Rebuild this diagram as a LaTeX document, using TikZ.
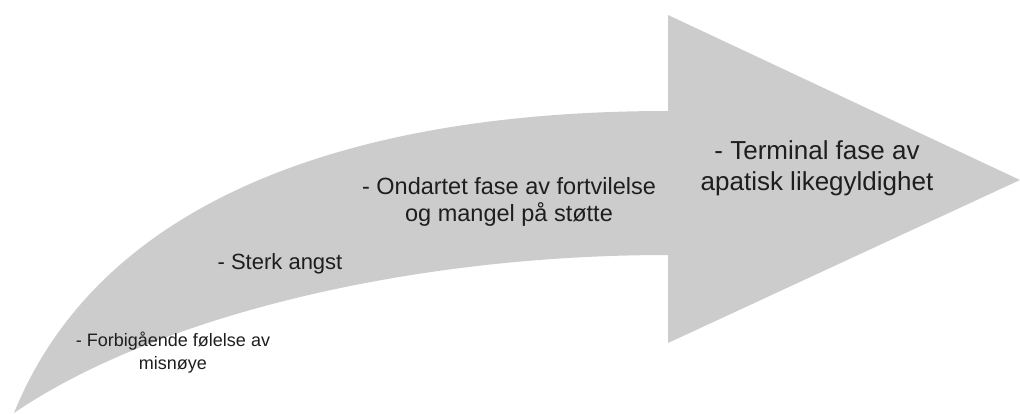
\documentclass[tikz,border=0pt]{standalone}
\usepackage{fontspec}
\setmainfont{Liberation Sans}
\definecolor{arrowgrey}{RGB}{204,204,204}
\definecolor{txt}{RGB}{30,30,30}
\tikzset{
  lbl/.style={align=center, text=txt, inner sep=0pt},
  big/.style={lbl, font=\fontsize{26}{31}\selectfont},
  mid/.style={lbl, font=\fontsize{23.5}{27.5}\selectfont},
  sterk/.style={lbl, font=\fontsize{22}{26}\selectfont},
  small/.style={lbl, font=\fontsize{18}{23}\selectfont},
}
\begin{document}
\begin{tikzpicture}[x=1pt,y=-1pt]
\useasboundingbox (0,0) rectangle (1020,414);
\fill[arrowgrey] (14,413) .. controls (100,200) and (350,111) .. (668,111)
  -- (668,15) -- (1020,180) -- (668,343) -- (668,255)
  .. controls (400,255) and (150,320) .. (14,413) -- cycle;
\node[big] (t4) at (817,168) {- Terminal fase av\\apatisk likegyldighet};
\node[mid] (t3) at (509,202) {- Ondartet fase av fortvilelse\\og mangel på støtte};
\node[sterk] (t2) at (280,264) {- Sterk angst};
\node[small] (t1) at (173,353) {- Forbigående følelse av\\misnøye};
\end{tikzpicture}
\end{document}
